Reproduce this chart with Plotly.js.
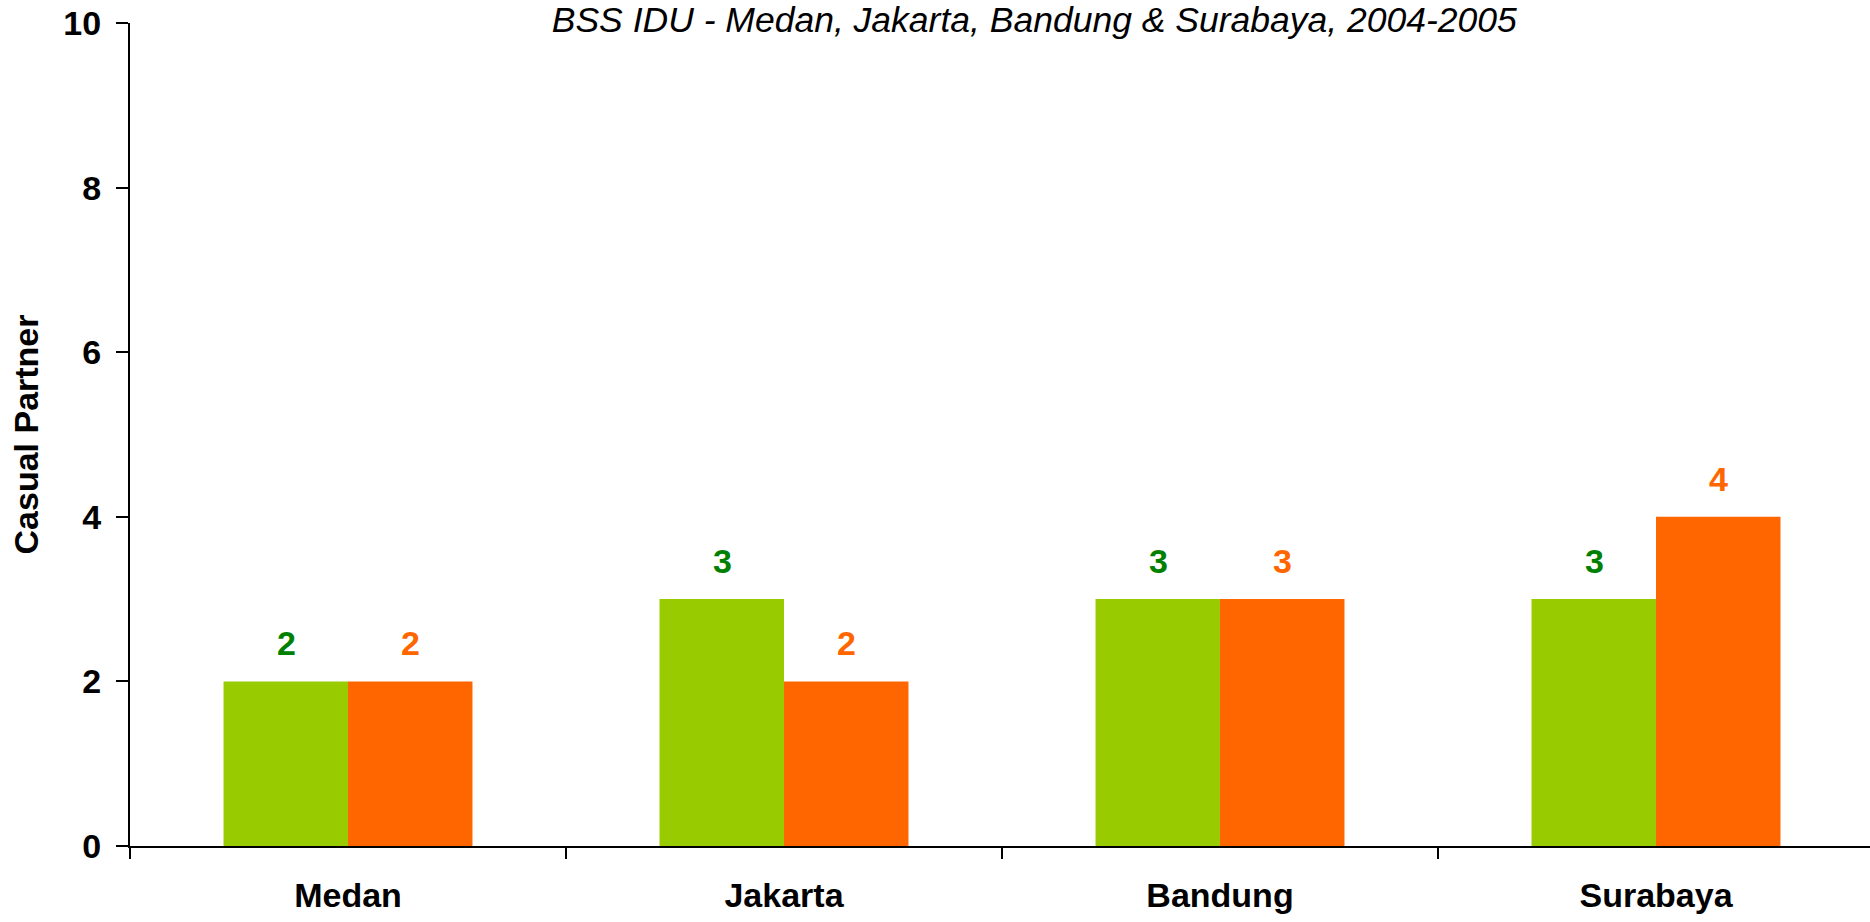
<!DOCTYPE html>
<html>
<head>
<meta charset="utf-8">
<script src="https://cdn.plot.ly/plotly-3.0.1.min.js"></script>
<style>html,body{margin:0;padding:0;background:#fff;}#chart{width:1870px;height:922px;}</style>
</head>
<body>
<div id="chart"></div>
<script>
const categories = ["Medan", "Jakarta", "Bandung", "Surabaya"];
const series2004 = [2, 3, 3, 3];
const series2005 = [2, 2, 3, 4];
const yTicks = [0, 2, 4, 6, 8, 10];
const titleText = "BSS IDU - Medan, Jakarta, Bandung & Surabaya, 2004-2005";
const yTitle = "Casual Partner";

const FONT = "Liberation Sans, Arial, sans-serif";
const GREEN_BAR = "#99CC00", ORANGE_BAR = "#FF6600";
const GREEN_TXT = "#008000", ORANGE_TXT = "#FF6600";

const traces = [
  {type: "bar", name: "2004", x: categories, y: series2004, marker: {color: GREEN_BAR}, hoverinfo: "x+y"},
  {type: "bar", name: "2005", x: categories, y: series2005, marker: {color: ORANGE_BAR}, hoverinfo: "x+y"}
];

const annotations = [];
categories.forEach((c, i) => {
  annotations.push({x: c, y: series2004[i], xref: "x", yref: "y", text: String(series2004[i]),
    showarrow: false, xanchor: "center", yanchor: "bottom", xshift: -62, yshift: 17,
    font: {family: FONT, size: 34, color: GREEN_TXT, weight: "bold"}});
  annotations.push({x: c, y: series2005[i], xref: "x", yref: "y", text: String(series2005[i]),
    showarrow: false, xanchor: "center", yanchor: "bottom", xshift: 62, yshift: 17,
    font: {family: FONT, size: 34, color: ORANGE_TXT, weight: "bold"}});
});

const layout = {
  width: 1870, height: 922,
  margin: {l: 130, r: 0, t: 23, b: 76, pad: 0},
  paper_bgcolor: "#fff", plot_bgcolor: "#fff",
  showlegend: false,
  barmode: "group", bargap: 0.429, bargroupgap: 0,
  font: {family: FONT, color: "#000"},
  title: {text: titleText, font: {family: FONT, size: 35.5, style: "italic", color: "#000"},
    xref: "paper", x: 0.5197, xanchor: "center", yref: "container", y: 0.9924, yanchor: "top", pad: {t: 0, b: 0}},
  xaxis: {
    type: "category", range: [-0.5, 3.4908], fixedrange: true,
    showline: true, linecolor: "#000", linewidth: 2, mirror: false,
    ticks: "outside", tickson: "boundaries", ticklen: 11, tickwidth: 2, tickcolor: "#000",
    showgrid: false, zeroline: false,
    tickfont: {family: FONT, size: 34, color: "#000", weight: "bold"},
    ticklabelstandoff: 18
  },
  yaxis: {
    range: [0, 10], tickvals: yTicks, ticktext: yTicks.map(String), fixedrange: true,
    showline: true, linecolor: "#000", linewidth: 2,
    ticks: "outside", ticklen: 12, tickwidth: 2, tickcolor: "#000",
    showgrid: false, zeroline: false,
    tickfont: {family: FONT, size: 34, color: "#000", weight: "bold"},
    ticklabelstandoff: 8,
    title: {text: yTitle, font: {family: FONT, size: 34, color: "#000", weight: "bold"}, standoff: 14},
    automargin: false
  },
  annotations: annotations
};

Plotly.newPlot("chart", traces, layout, {displayModeBar: false, staticPlot: true});
</script>
</body>
</html>
